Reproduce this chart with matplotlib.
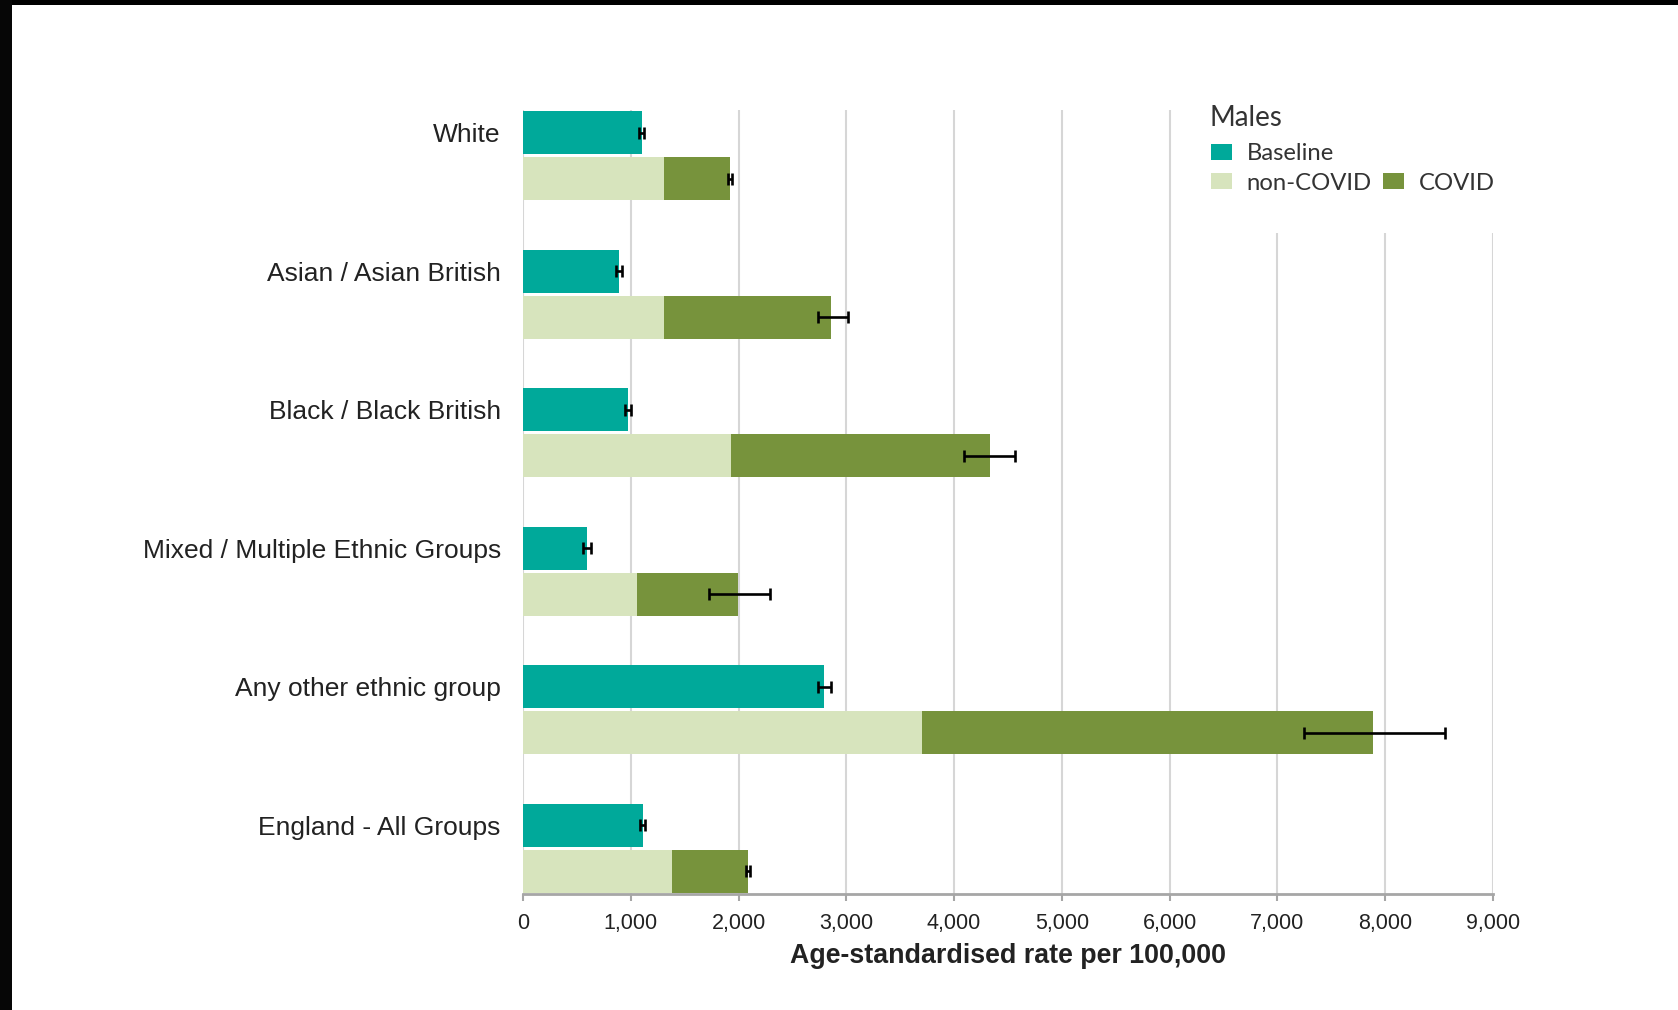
import matplotlib
matplotlib.use("Agg")
import matplotlib.pyplot as plt
from matplotlib.patches import Patch, Rectangle
from matplotlib.ticker import FuncFormatter
import numpy as np

# Excess deaths, males, age-standardised rate per 100,000
categories = [
    "White",
    "Asian / Asian British",
    "Black / Black British",
    "Mixed / Multiple Ethnic Groups",
    "Any other ethnic group",
    "England - All Groups",
]
baseline = [1100, 890, 975, 595, 2795, 1110]
baseline_err = [20, 25, 30, 35, 62, 20]
non_covid = [1305, 1305, 1930, 1060, 3705, 1380]
covid = [615, 1550, 2400, 938, 4180, 706]
total_err_low = [20, 120, 240, 268, 637, 20]
total_err_high = [20, 160, 235, 298, 673, 20]
x_ticks = [0, 1000, 2000, 3000, 4000, 5000, 6000, 7000, 8000, 9000]

c_base = "#00A99A"
c_non = "#D7E4BD"
c_cov = "#77933C"
grid_c = "#D6D6D6"
axis_c = "#A6A6A6"

plt.rcParams["font.family"] = ["Liberation Sans", "DejaVu Sans"]
legend_family = ["Lato", "DejaVu Sans"]

fig = plt.figure(figsize=(16.78, 10.10), dpi=100)
fig.patch.set_facecolor("white")
ax = fig.add_axes([0.3117, 0.1149, 0.8897 - 0.3117, 0.8911 - 0.1149])

pos = np.arange(len(categories))
off = 0.166
h = 0.31
y_base = pos - off
y_stack = pos + off

ax.barh(y_base, baseline, height=h, color=c_base, zorder=3)
ax.barh(y_stack, non_covid, height=h, color=c_non, zorder=3)
ax.barh(y_stack, covid, left=non_covid, height=h, color=c_cov, zorder=3)

totals = np.array(non_covid) + np.array(covid)
ekw = dict(fmt="none", ecolor="black", elinewidth=1.9, capsize=4.5,
           capthick=1.9, zorder=5)
ax.errorbar(baseline, y_base, xerr=baseline_err, **ekw)
ax.errorbar(totals, y_stack, xerr=[total_err_low, total_err_high], **ekw)

ax.set_xlim(x_ticks[0], x_ticks[-1])
ax.set_ylim(len(categories) - 1 + 0.33, -0.33)
ax.set_xticks(x_ticks)
ax.xaxis.set_major_formatter(FuncFormatter(lambda v, p: f"{int(v):,}"))
ax.set_yticks(y_base)
ax.set_yticklabels(categories, fontsize=19, color="#222222")
ax.tick_params(axis="y", length=0, pad=16)
ax.tick_params(axis="x", length=5, width=1.5, color=axis_c, labelsize=15.5,
               pad=9, labelcolor="#222222")

ax.grid(axis="x", color=grid_c, linewidth=1.5, zorder=0)
ax.set_axisbelow(True)
for s in ("top", "right", "left"):
    ax.spines[s].set_visible(False)
ax.spines["bottom"].set_color(axis_c)
ax.spines["bottom"].set_linewidth(2)
ax.spines["bottom"].set_zorder(4)

ax.set_xlabel("Age-standardised rate per 100,000", fontsize=19.3, fontweight="bold",
              color="#222222", labelpad=6)

# white legend panel hiding the upper part of the right-hand gridlines
ax.add_patch(Rectangle((6400, -0.33), 3000, 0.89, transform=ax.transData,
                       facecolor="white", edgecolor="none", zorder=1.5,
                       clip_on=False))

handles = [
    Patch(facecolor=c_base, edgecolor="none"),
    Patch(facecolor=c_non, edgecolor="none"),
    Patch(facecolor="none", edgecolor="none"),
    Patch(facecolor=c_cov, edgecolor="none"),
]
labels = ["Baseline", "non-COVID", "", "COVID"]
leg = fig.legend(handles, labels, ncol=2, loc="upper left",
                 bbox_to_anchor=(1199 / 1678, 1 - 131.5 / 1010),
                 frameon=False,
                 prop={"family": legend_family, "size": 17.2},
                 handlelength=0.9, handleheight=0.66, handletextpad=0.6,
                 columnspacing=0.45, labelspacing=0.34, borderpad=0.0)
for t in leg.get_texts():
    t.set_color("#333333")
fig.text(1209 / 1678, 1 - 118 / 1010, "Males", family=legend_family, fontsize=20,
         color="#333333", ha="left", va="center")

# dark frame strips at the top and left edges
fig.add_artist(Rectangle((0, 1 - 5 / 1010), 1, 5 / 1010, transform=fig.transFigure,
                         facecolor="black", edgecolor="none"))
fig.add_artist(Rectangle((0, 0), 12 / 1678, 1, transform=fig.transFigure,
                         facecolor="#060606", edgecolor="none"))

fig.savefig("out.png", dpi=100, facecolor="white")
